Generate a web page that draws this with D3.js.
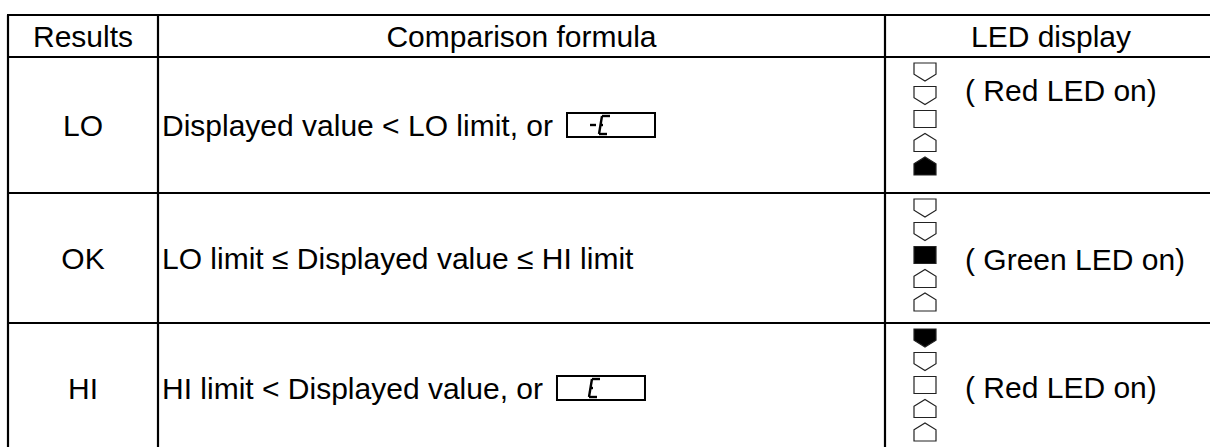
<!DOCTYPE html>
<html>
<head>
<meta charset="utf-8">
<script src="https://cdn.jsdelivr.net/npm/d3@7"></script>
<style>
  html, body { margin: 0; padding: 0; background: #fff; }
  svg { display: block; }
</style>
</head>
<body>
<script>
// table content
const headers = ["Results", "Comparison formula", "LED display"];
const results = ["LO", "OK", "HI"];
const formulas = ["Displayed value < LO limit, or", "LO limit \u2264 Displayed value \u2264 HI limit", "HI limit < Displayed value, or"];
const displayCodes = ["-E", "", "E"];          // what the 7-seg box shows ("" = no box)
const ledLabels = ["( Red LED on)", "( Green LED on)", "( Red LED on)"];
const ledShapes = ["down", "down", "square", "up", "up"];
const ledLit = [4, 2, 0];                       // which LED of the column is on per row

const W = 1210, H = 447;
const fontSize = 30;
const capHalf = fontSize * 0.716 / 2;

// layout
const colEdges = [8, 158, 885, 1217];
const rowHeights = [42, 136, 130, 130];
const tops = Array.from(d3.cumsum([15].concat(rowHeights)));   // 15, 57, 193, 323, 453
const ledTextDy = [-35, 1, -1];

const rowMid = i => tops[i] + rowHeights[i] / 2;

const svg = d3.select("body").append("svg")
    .attr("width", W)
    .attr("height", H);

const grid = svg.append("g").attr("stroke", "#000").attr("stroke-width", 2.2);

// horizontal lines
grid.selectAll("line.h")
  .data(tops)
  .join("line")
    .attr("class", "h")
    .attr("x1", colEdges[0] - 1).attr("x2", W + 5)
    .attr("y1", d => d).attr("y2", d => d);

// vertical lines
grid.selectAll("line.v")
  .data(colEdges.slice(0, 3))
  .join("line")
    .attr("class", "v")
    .attr("x1", d => d).attr("x2", d => d)
    .attr("y1", tops[0]).attr("y2", H + 10);

const txt = svg.append("g")
    .attr("font-family", "Arial, 'Liberation Sans', sans-serif")
    .attr("font-size", fontSize)
    .attr("fill", "#000");

// header
txt.selectAll("text.hdr")
  .data(headers)
  .join("text")
    .attr("class", "hdr")
    .attr("text-anchor", "middle")
    .attr("x", (d, i) => (colEdges[i] + colEdges[i + 1]) / 2)
    .attr("y", rowMid(0) + capHalf)
    .text(d => d);

// results column
txt.selectAll("text.res")
  .data(results)
  .join("text")
    .attr("class", "res")
    .attr("text-anchor", "middle")
    .attr("x", (colEdges[0] + colEdges[1]) / 2)
    .attr("y", (d, i) => rowMid(i + 1) + capHalf)
    .text(d => d);

// formulas
const fText = txt.selectAll("text.frm")
  .data(formulas)
  .join("text")
    .attr("class", "frm")
    .attr("x", colEdges[1] + 4)
    .attr("y", (d, i) => rowMid(i + 1) + capHalf)
    .text(d => d);

// seven-segment style glyphs, slanted a little
const glyphs = {
  "-": [[[0, 12], [6, 12]]],
  "E": [[[12, 3], [4, 3]], [[4, 3], [1, 21]], [[2.5, 12], [5, 12]], [[1, 21], [9, 21]]]
};
fText.each(function(d, i) {
  const code = displayCodes[i];
  if (!code) return;
  const bb = this.getBBox();
  const bx = bb.x + bb.width + 14, by = rowMid(i + 1) - 12;
  const g = svg.append("g").attr("transform", `translate(${bx},${by})`);
  g.append("rect")
    .attr("width", 88).attr("height", 24)
    .attr("fill", "none").attr("stroke", "#000").attr("stroke-width", 2);
  // right-aligned so the E lands in the same place in both rows
  const chars = code.split("");
  chars.forEach((c, k) => {
    const cx = c === "-" ? 23 : 31;
    glyphs[c].forEach(l => {
      g.append("path")
        .attr("d", d3.line()(l.map(p => [p[0] + cx, p[1]])))
        .attr("stroke", "#000").attr("stroke-width", 2.4).attr("fill", "none");
    });
  });
});

// LED indicators
const ledX = 914, ledW = 22, ledH = 18, ledStep = 23.5;
const shapePath = (s) => {
  const w = ledW, h = ledH;
  if (s === "down") return `M0,0H${w}V${h * 0.62}L${w / 2},${h}L0,${h * 0.62}Z`;
  if (s === "up") return `M0,${h * 0.38}L${w / 2},0L${w},${h * 0.38}V${h}H0Z`;
  return `M0,0.5H${w}V${h - 0.5}H0Z`;
};

results.forEach((r, i) => {
  svg.append("g").selectAll("path")
    .data(ledShapes)
    .join("path")
      .attr("transform", (d, k) => `translate(${ledX},${tops[i + 1] + 6 + k * ledStep})`)
      .attr("d", d => shapePath(d))
      .attr("fill", (d, k) => k === ledLit[i] ? "#000" : "#fff")
      .attr("stroke", "#222")
      .attr("stroke-width", 1.2);
});

// LED labels
txt.selectAll("text.led")
  .data(ledLabels)
  .join("text")
    .attr("class", "led")
    .attr("x", 965)
    .attr("y", (d, i) => rowMid(i + 1) + ledTextDy[i] + capHalf)
    .text(d => d);
</script>
</body>
</html>
